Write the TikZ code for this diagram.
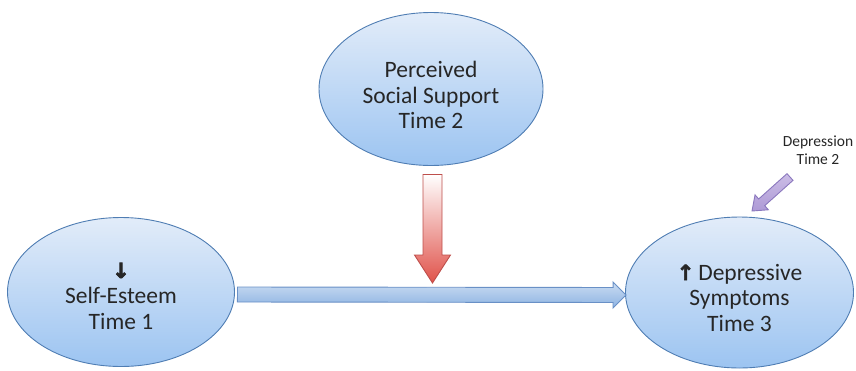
\documentclass[tikz,border=0pt]{standalone}
\usepackage{fontspec}
\setmainfont{Carlito}
\newfontfamily\arrowfont[FakeBold=3]{DejaVu Sans Bold}
\usetikzlibrary{shapes.geometric,calc}
\definecolor{elltop}{HTML}{E2ECF9}
\definecolor{ellbot}{HTML}{9CC4F1}
\definecolor{ellline}{HTML}{4F7DB3}
\definecolor{hatop}{HTML}{CADCF2}
\definecolor{habot}{HTML}{8DB3E2}
\definecolor{haline}{HTML}{6990C6}
\definecolor{redtop}{HTML}{FFFFFF}
\definecolor{redbot}{HTML}{E0524A}
\definecolor{redline}{HTML}{BE4E4B}
\definecolor{purtop}{HTML}{CBBDE6}
\definecolor{purbot}{HTML}{AE9AD6}
\definecolor{purline}{HTML}{8B78BE}
\definecolor{txt}{HTML}{262626}
\newcommand\blockarr[6]{%
  \coordinate (hb) at ($(#2)!#5!(#1)$);
  \path[#6] ($(#1)!#3!90:(#2)$) -- ($(hb)!#3!90:(#2)$) -- ($(hb)!#4!90:(#2)$)
    -- (#2) -- ($(hb)!#4!-90:(#2)$) -- ($(hb)!#3!-90:(#2)$) -- ($(#1)!#3!-90:(#2)$) -- cycle;}
\begin{document}
\begin{tikzpicture}[x=1pt,y=-1pt,
  ell/.style={ellipse,draw=ellline,line width=0.9pt,top color=elltop,bottom color=ellbot,inner sep=0pt},
  lbl/.style={align=center,font=\fontsize{23.5}{25.5}\selectfont,text=txt},
  small/.style={align=center,font=\fontsize{15.5}{18}\selectfont,text=txt},
  harrow/.style={draw=haline,line width=0.9pt,top color=hatop,bottom color=habot,line join=miter},
  rarrow/.style={draw=redline,line width=0.9pt,top color=redtop,bottom color=redbot,line join=miter},
  parrow/.style={draw=purline,line width=0.9pt,top color=purtop,bottom color=purbot,line join=miter}]
\useasboundingbox (0,0) rectangle (856,370);
% ellipses
\node[ell,minimum width=227pt,minimum height=149pt] (L) at (121,292) {};
\node[ell,minimum width=224pt,minimum height=153pt] (T) at (431,89) {};
\node[ell,minimum width=228pt,minimum height=151pt] (R) at (739.5,292.5) {};
% texts
\node[lbl] (Lt) at ($(L.center)+(0,4)$) {{\arrowfont\fontsize{21}{25.5}\selectfont ↓}\\Self-Esteem\\Time 1};
\node[lbl] (Tt) at ($(T.center)+(0,6)$) {Perceived\\Social Support\\Time 2};
\node[lbl] (Rt) at ($(R.center)+(0,5)$) {{\arrowfont\fontsize{21}{25.5}\selectfont ↑}\,Depressive\\Symptoms\\Time 3};
\node[small] (D) at (818,150) {Depression\\Time 2};
% horizontal arrow
\coordinate (ha) at ($(L.east)+(2.5,2.5)$);
\coordinate (hz) at ($(R.west)+(1,2.5)$);
\blockarr{ha}{hz}{7.5pt}{13pt}{13pt}{harrow}
% red arrow
\coordinate (ra) at ($(T.south)+(1.5,8.5)$);
\coordinate (rz) at (432.5,283);
\blockarr{ra}{rz}{9.5pt}{18pt}{28pt}{rarrow}
% purple arrow
\coordinate (pa) at (790,177);
\coordinate (pz) at (752,211);
\blockarr{pa}{pz}{4.5pt}{10pt}{13pt}{parrow}
\end{tikzpicture}
\end{document}
